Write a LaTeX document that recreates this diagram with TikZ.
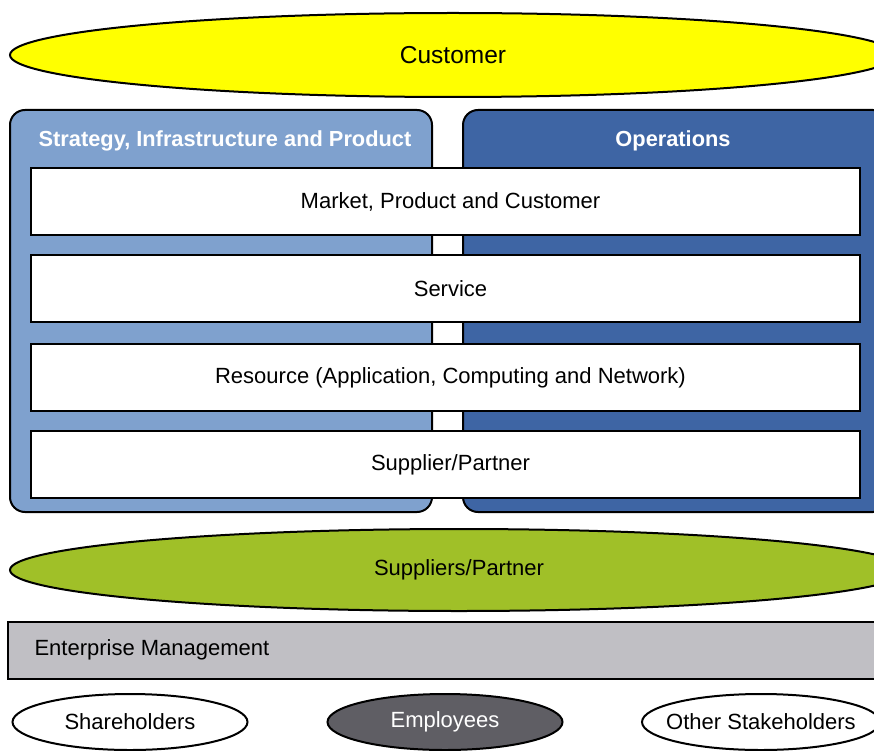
\documentclass[tikz,border=0pt]{standalone}
\usepackage{fontspec}
\setmainfont{Liberation Sans}
\usetikzlibrary{shapes.geometric}
\definecolor{custyellow}{RGB}{255,255,0}
\definecolor{lightblue}{RGB}{127,161,206}
\definecolor{darkblue}{RGB}{62,101,164}
\definecolor{leafgreen}{RGB}{160,192,40}
\definecolor{mgmtgray}{RGB}{192,191,196}
\definecolor{empgray}{RGB}{95,94,100}
\tikzset{
  txt/.style={font=\fontsize{22}{24}\selectfont},
  oval/.style={ellipse, draw=black, line width=2pt, inner sep=0pt},
  panel/.style={rectangle, rounded corners=15pt, draw=black, line width=2pt, inner sep=0pt},
  title/.style={text=white, font=\fontsize{21.8}{24}\selectfont\bfseries},
  layerbox/.style={rectangle, draw=black, line width=2pt, fill=white, minimum width=829pt, minimum height=67pt, inner sep=0pt, txt},
}
\begin{document}
\begin{tikzpicture}[x=1pt,y=-1pt]
\useasboundingbox (0,0) rectangle (874,751);
\clip (0,0) rectangle (874,751);
\node[oval, fill=custyellow, minimum width=886pt, minimum height=84pt,
  label={[font=\fontsize{24.5}{26}\selectfont]center:Customer}] (cust) at (453,55) {};
\node[panel, fill=lightblue, minimum width=422pt, minimum height=402pt] (sip) at (221,311) {};
\node[panel, fill=darkblue, minimum width=425pt, minimum height=402pt] (ops) at (675.5,311) {};
\node[title] (siptitle) at (225,141) {Strategy, Infrastructure and Product};
\node[title] (opstitle) at (673,141) {Operations};
\node[layerbox] (mpc) at (445.5,201.5) {\hspace*{10pt}Market, Product and Customer};
\node[layerbox] (svc) at (445.5,288.5) {\hspace*{10pt}Service};
\node[layerbox] (res) at (445.5,377.5) {\hspace*{10pt}Resource (Application, Computing and Network)};
\node[layerbox] (sup) at (445.5,464.5) {\hspace*{10pt}Supplier/Partner};
\node[oval, fill=leafgreen, minimum width=898pt, minimum height=82pt,
  label={[txt]center:Suppliers/Partner}] (supp) at (459,570) {};
\node[rectangle, draw=black, line width=2pt, fill=mgmtgray, minimum width=882pt, minimum height=57pt, inner sep=0pt] (em) at (449,650.5) {};
\node[txt, anchor=west] (emtext) at (31,650) {Enterprise Management};
\node[oval, fill=white, minimum width=235pt, minimum height=56pt,
  label={[txt]center:Shareholders}] (sh) at (130,722) {};
\node[oval, fill=empgray, minimum width=235pt, minimum height=56pt,
  label={[txt, text=white]center:Employees}] (emp) at (445,722) {};
\node[oval, fill=white, minimum width=238pt, minimum height=56pt,
  label={[txt]center:Other Stakeholders}] (os) at (761,722) {};
\end{tikzpicture}
\end{document}
